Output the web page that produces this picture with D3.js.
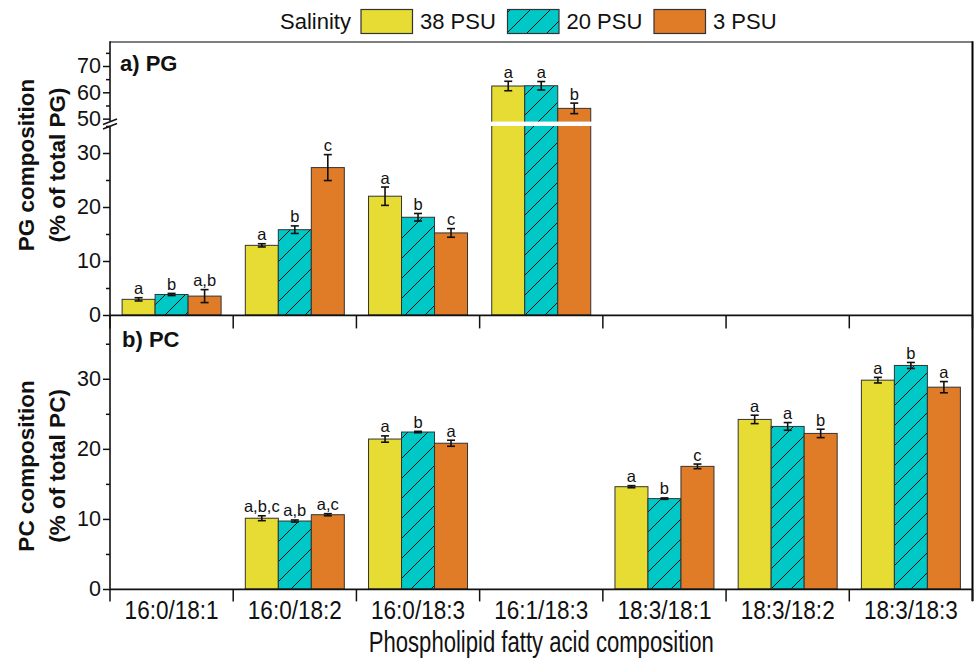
<!DOCTYPE html>
<html><head><meta charset="utf-8">
<script src="https://cdn.jsdelivr.net/npm/d3@7"></script>
<style>
body{margin:0;background:#fff;}
svg{display:block;font-family:"Liberation Sans",Arial,sans-serif;}
</style></head>
<body><svg id="c" width="978" height="659"></svg>
<script>
const categories = ["16:0/18:1","16:0/18:2","16:0/18:3","16:1/18:3","18:3/18:1","18:3/18:2","18:3/18:3"];
const series = ["38 PSU","20 PSU","3 PSU"];
const colors = ["#e6dc33","#00c8c6","#e07b27"];

// PG panel
const pg38 = [2.9, 12.9, 22.0, 62.4, null, null, null];
const pg20 = [3.8, 15.8, 18.1, 62.5, null, null, null];
const pg3  = [3.5, 27.3, 15.2, 53.9, null, null, null];
const pg38Err = [0.3, 0.3, 1.7, 1.8, null, null, null];
const pg20Err = [0.2, 0.7, 0.7, 1.6, null, null, null];
const pg3Err  = [1.2, 2.4, 0.8, 2.0, null, null, null];
const pg38Let = ["a","a","a","a","","",""];
const pg20Let = ["b","b","b","a","","",""];
const pg3Let  = ["a,b","c","c","b","","",""];

// PC panel
const pc38 = [null, 10.1, 21.4, null, 14.6, 24.2, 29.8];
const pc20 = [null, 9.7, 22.4, null, 12.9, 23.2, 31.9];
const pc3  = [null, 10.6, 20.8, null, 17.5, 22.2, 28.8];
const pc38Err = [null, 0.35, 0.45, null, 0.15, 0.6, 0.4];
const pc20Err = [null, 0.15, 0.1, null, 0.1, 0.55, 0.43];
const pc3Err  = [null, 0.15, 0.43, null, 0.33, 0.6, 0.8];
const pc38Let = ["","a,b,c","a","","a","a","a"];
const pc20Let = ["","a,b","b","","b","a","b"];
const pc3Let  = ["","a,c","a","","c","b","a"];

const pgLowTicks = [0,10,20,30], pgLowMinor = [5,15,25,35];
const pgHighTicks = [50,60,70], pgHighMinor = [55,65,75];
const pcTicks = [0,10,20,30], pcMinor = [5,15,25,35];

const svg = d3.select("#c");
const L = 110, R = 972.5;
const x = d3.scaleBand().domain(categories).range([L, R]).padding(0);
const xs = d3.scaleBand().domain(series).range([12.1, 111.1]).padding(0);

// hatch pattern
const defs = svg.append("defs");
const pat = defs.append("pattern").attr("id","hatch").attr("patternUnits","userSpaceOnUse")
  .attr("width",20).attr("height",20);
pat.append("rect").attr("width",20).attr("height",20).attr("fill",colors[1]);
pat.append("path").attr("d","M-5,5 L5,-5 M0,20 L20,0 M15,25 L25,15").attr("stroke","#111").attr("stroke-width",1);
const fillOf = i => i===1 ? "url(#hatch)" : colors[i];

// Scales
const yLow = d3.scaleLinear().domain([0,35.5]).range([315,123.3]);
const yHigh = d3.scaleLinear().domain([48,79.2]).range([123.9,41.8]);
const yPG = v => v <= 35.5 ? yLow(v) : yHigh(v);
const yPC = d3.scaleLinear().domain([0,39.1]).range([589,315]);

function drawPanel(vals, errs, lets, yf, y0) {
  vals.forEach((arr, si) => {
    arr.forEach((v, ci) => {
      if (v == null) return;
      const bx = x(categories[ci]) + xs(series[si]);
      const bw = xs.bandwidth();
      svg.append("rect").attr("x",bx).attr("y",yf(v)).attr("width",bw).attr("height",y0 - yf(v))
        .attr("fill",fillOf(si)).attr("stroke","#333").attr("stroke-width",1);
      const e = errs[si][ci];
      const cx = bx + bw/2;
      const g = svg.append("g").attr("stroke","#111").attr("stroke-width",1.6);
      g.append("line").attr("x1",cx).attr("x2",cx).attr("y1",yf(v-e)).attr("y2",yf(v+e));
      g.append("line").attr("x1",cx-4).attr("x2",cx+4).attr("y1",yf(v-e)).attr("y2",yf(v-e));
      g.append("line").attr("x1",cx-4).attr("x2",cx+4).attr("y1",yf(v+e)).attr("y2",yf(v+e));
      svg.append("text").attr("x",cx).attr("y",yf(v+e)-3.5).attr("text-anchor","middle")
        .attr("font-size",16.5).attr("fill","#111").text(lets[si][ci]);
    });
  });
}

drawPanel([pg38,pg20,pg3],[pg38Err,pg20Err,pg3Err],[pg38Let,pg20Let,pg3Let], yPG, yLow(0));
drawPanel([pc38,pc20,pc3],[pc38Err,pc20Err,pc3Err],[pc38Let,pc20Let,pc3Let], yPC, yPC(0));

// break band through bars
svg.append("rect").attr("x",L+1).attr("y",121.6).attr("width",R-L-2).attr("height",4.4).attr("fill","#fff");

// frame lines
svg.append("line").attr("x1",L).attr("x2",R).attr("y1",42).attr("y2",42).attr("stroke","#555").attr("stroke-width",1.6);
svg.append("line").attr("x1",R).attr("x2",R).attr("y1",41.2).attr("y2",601).attr("stroke","#000").attr("stroke-width",2);

// y axes
function yAxis(scale, major, minor, y1, y2) {
  const g = svg.append("g").attr("transform",`translate(${L},0)`);
  g.call(d3.axisLeft(scale).tickValues(major).tickSize(7).tickPadding(2).tickFormat(d3.format("d")));
  g.call(gg => gg.select(".domain").remove());
  g.selectAll("text").attr("font-size",21.5).attr("font-family","Liberation Sans, Arial, sans-serif").attr("fill","#111");
  g.selectAll("line").attr("stroke","#111").attr("stroke-width",1.5);
  const m = svg.append("g").attr("transform",`translate(${L},0)`);
  m.call(d3.axisLeft(scale).tickValues(minor).tickSize(4).tickFormat(""));
  m.call(gg => gg.select(".domain").remove());
  m.selectAll("line").attr("stroke","#111").attr("stroke-width",1.5);
  svg.append("line").attr("x1",L).attr("x2",L).attr("y1",y1).attr("y2",y2).attr("stroke","#111").attr("stroke-width",1.6);
}
yAxis(yLow, pgLowTicks, pgLowMinor, 126, 315.8);
yAxis(yHigh, pgHighTicks, pgHighMinor, 41.2, 121.5);
yAxis(yPC, pcTicks, pcMinor, 315, 589.8);

// break marks
svg.append("line").attr("x1",103).attr("y1",124.5).attr("x2",117).attr("y2",119).attr("stroke","#111").attr("stroke-width",1.5);
svg.append("line").attr("x1",103).attr("y1",129).attr("x2",117).attr("y2",123.5).attr("stroke","#111").attr("stroke-width",1.5);

// x axis lines (panel separator and bottom)
function xAxis(y0, tickLen) {
  const g = svg.append("g").attr("transform",`translate(0,${y0})`);
  const bounds = categories.map(c => x(c)).concat([R]);
  g.append("line").attr("x1",L).attr("x2",R).attr("stroke","#111").attr("stroke-width",1.6);
  g.selectAll("line.t").data(bounds).join("line").attr("class","t")
    .attr("x1",d=>d).attr("x2",d=>d).attr("y1",0).attr("y2",tickLen).attr("stroke","#111").attr("stroke-width",1.5);
}
xAxis(315.4, 13);
xAxis(589.4, 12);

// category labels
const labG = svg.append("g");
categories.forEach(c => {
  labG.append("text").attr("x", x(c) + x.bandwidth()/2).attr("y", 619).attr("text-anchor","middle")
    .attr("font-size",26).attr("fill","#111")
    .attr("textLength",94).attr("lengthAdjust","spacingAndGlyphs").text(c);
});
svg.append("text").attr("x",(L+R)/2).attr("y",652).attr("text-anchor","middle").attr("font-size",30).attr("fill","#111")
  .attr("textLength",345).attr("lengthAdjust","spacingAndGlyphs").text("Phospholipid fatty acid composition");

// panel labels
svg.append("text").attr("x",120).attr("y",70.5).attr("font-size",22).attr("font-weight","bold").attr("fill","#111").text("a) PG");
svg.append("text").attr("x",122).attr("y",346.5).attr("font-size",22).attr("font-weight","bold").attr("fill","#111").text("b) PC");

// y titles
function yTitle(cy, l1, l2) {
  const g = svg.append("g").attr("transform",`translate(0,${cy}) rotate(-90)`);
  g.append("text").attr("x",0).attr("y",34).attr("text-anchor","middle").attr("font-size",22.5).attr("font-weight","bold").attr("fill","#111").text(l1);
  g.append("text").attr("x",0).attr("y",65).attr("text-anchor","middle").attr("font-size",22.5).attr("font-weight","bold").attr("fill","#111").text(l2);
}
yTitle(165, "PG composition", "(% of total PG)");
yTitle(466, "PC composition", "(% of total PC)");

// legend
const lg = svg.append("g");
lg.append("text").attr("x",280).attr("y",28.5).attr("font-size",22).attr("fill","#111").text("Salinity");
const legX = [361, 507.5, 654];
series.forEach((s,i) => {
  lg.append("rect").attr("x",legX[i]).attr("y",9.5).attr("width",51.5).attr("height",24).attr("fill",fillOf(i)).attr("stroke","#333").attr("stroke-width",1.2);
  lg.append("text").attr("x",legX[i]+59).attr("y",28.5).attr("font-size",22).attr("fill","#111").text(s);
});
</script></body></html>
